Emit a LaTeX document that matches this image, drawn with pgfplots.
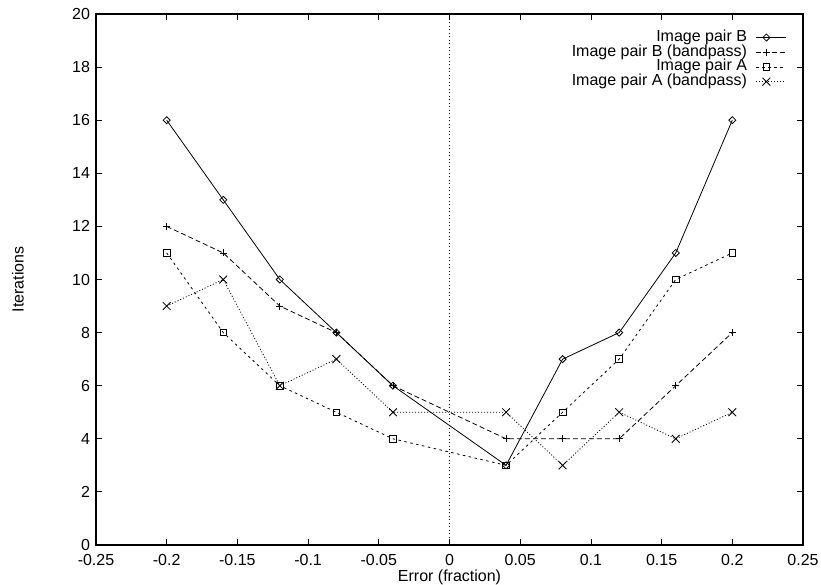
\documentclass[border=0pt]{standalone}
\usepackage{fontspec}
\setmainfont{Liberation Sans}
\usepackage{pgfplots}
\pgfplotsset{compat=1.18}

\begin{document}
\begin{tikzpicture}
\begin{axis}[
    scale only axis,
    width=707pt, height=531pt,
    xmin=-0.25, xmax=0.25,
    ymin=0, ymax=20,
    xtick={-0.25,-0.2,-0.15,-0.1,-0.05,0,0.05,0.1,0.15,0.2,0.25},
    xticklabels={-0.25,-0.2,-0.15,-0.1,-0.05,0,0.05,0.1,0.15,0.2,0.25},
    ytick={0,2,4,6,8,10,12,14,16,18,20},
    yticklabels={0,2,4,6,8,10,12,14,16,18,20},
    tick align=inside,
    tick pos=both,
    major tick length=6pt,
    axis line style={line width=1.2pt},
    every tick/.style={line width=0.8pt, black},
    font=\fontsize{16}{18}\selectfont,
    tick label style={font=\fontsize{16}{18}\selectfont},
    xticklabel style={yshift=-6pt},
    yticklabel style={xshift=-2.5pt},
    xlabel={Error (fraction)},
    ylabel={Iterations},
    every axis x label/.style={at={(axis description cs:0.5,0)}, anchor=center, yshift=-32.5pt},
    every axis y label/.style={at={(axis description cs:0,0.5)}, xshift=-78pt, anchor=center, rotate=90},
    legend cell align=right,
    legend plot pos=right,
    legend style={draw=none, fill=none, at={(1,1)}, anchor=north east,
        xshift=-16pt, yshift=-16pt, row sep=0pt, column sep=9pt, inner sep=0pt,
        font=\fontsize{16}{16}\selectfont,
        nodes={inner sep=0pt, text height=11.4pt, text depth=3.3pt}},
    legend image code/.code={
        \draw[mark repeat=2, mark phase=2] plot coordinates {(0pt,0pt) (10pt,0pt) (30pt,0pt)};
    },
    every axis plot/.append style={line width=0.8pt, black},
]
\addplot[mark=square, mark size=2.5pt, mark options={solid, rotate=45}] coordinates {
    (-0.2,16) (-0.16,13) (-0.12,10) (-0.08,8) (-0.04,6)
    (0.04,3) (0.08,7) (0.12,8) (0.16,11) (0.2,16)
};
\addlegendentry{Image pair B}
\addplot[mark=+, mark size=3.5pt, dash pattern=on 5pt off 3pt, mark options={solid}] coordinates {
    (-0.2,12) (-0.16,11) (-0.12,9) (-0.08,8) (-0.04,6)
    (0.04,4) (0.08,4) (0.12,4) (0.16,6) (0.2,8)
};
\addlegendentry{Image pair B (bandpass)}
\addplot[mark=square, mark size=3.3pt, dash pattern=on 2.5pt off 3.5pt, mark options={solid}] coordinates {
    (-0.2,11) (-0.16,8) (-0.12,6) (-0.08,5) (-0.04,4)
    (0.04,3) (0.08,5) (0.12,7) (0.16,10) (0.2,11)
};
\addlegendentry{Image pair A}
\addplot[mark=x, mark size=5.5pt, dash pattern=on 1pt off 2pt, mark options={solid}] coordinates {
    (-0.2,9) (-0.16,10) (-0.12,6) (-0.08,7) (-0.04,5)
    (0.04,5) (0.08,3) (0.12,5) (0.16,4) (0.2,5)
};
\addlegendentry{Image pair A (bandpass)}
\addplot[forget plot, no marks, line width=0.7pt, dash pattern=on 1pt off 2.5pt] coordinates {(0,0) (0,20)};
\end{axis}
\pgfresetboundingbox
\path ([xshift=-96pt,yshift=-40pt]current axis.south west) rectangle ([xshift=18pt,yshift=14pt]current axis.north east);
\end{tikzpicture}
\end{document}
